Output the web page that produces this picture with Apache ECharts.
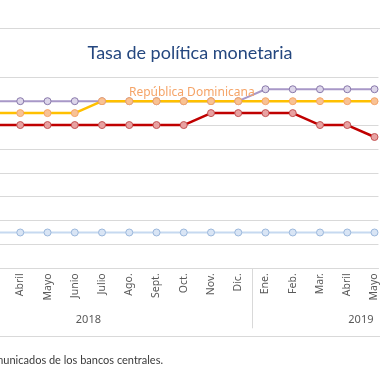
<!DOCTYPE html>
<html><head><meta charset="utf-8">
<script src="https://cdn.jsdelivr.net/npm/echarts@6/dist/echarts.min.js"></script>
<style>html,body{margin:0;padding:0;background:#fff}#c{width:380px;height:380px}</style>
</head><body><div id="c"></div>
<script>
const months = ['Ene.','Feb.','Mar.','Abril','Mayo','Junio','Julio','Ago.','Sept.','Oct.','Nov.','Dic.',
                'Ene.','Feb.','Mar.','Abril','Mayo','Junio','Julio','Ago.'];
const years = ['2018','2019'];
const monthsPerYear = [12, 8];
const honduras  = [5.5,5.5,5.5,5.5,5.5,5.5,5.5,5.5,5.5,5.5,5.5,5.5, 5.75,5.75,5.75,5.75,5.75,null,null,null];
const repDom    = [5.25,5.25,5.25,5.25,5.25,5.25,5.5,5.5,5.5,5.5,5.5,5.5, 5.5,5.5,5.5,5.5,5.5,null,null,null];
const costaRica = [5.0,5.0,5.0,5.0,5.0,5.0,5.0,5.0,5.0,5.0,5.25,5.25, 5.25,5.25,5.0,5.0,4.75,null,null,null];
const guatemala = [2.75,2.75,2.75,2.75,2.75,2.75,2.75,2.75,2.75,2.75,2.75,2.75, 2.75,2.75,2.75,2.75,2.75,null,null,null];
const repDomName = 'República Dominicana';
const repDomLabelIndex = 9;
// visible window of the (cropped) month axis, in month units
const viewMin = 2.756, viewMax = 16.645;

const monthCenters = months.map((m, i) => i + 0.5);
const yearBounds = [0]; monthsPerYear.forEach(n => yearBounds.push(yearBounds[yearBounds.length-1] + n));
const yearCenters = monthsPerYear.map((n, i) => yearBounds[i] + n / 2);
const toXY = arr => arr.map((v, i) => [monthCenters[i], v]);

const chart = echarts.init(document.getElementById('c'), null, {renderer: 'canvas'});
function mk(color, fill, border, width) {
  return {
    type: 'line', symbol: 'circle', symbolSize: 7, showSymbol: true, clip: true,
    lineStyle: {color: color, width: width},
    itemStyle: {color: fill, borderColor: border, borderWidth: 1},
    emphasis: {disabled: true}, animation: false
  };
}
const grey = '#d9d9d9';
chart.setOption({
  animation: false,
  title: {
    text: 'Tasa de política monetaria', left: 'center', top: 39,
    textStyle: {color: '#24477f', fontSize: 18, fontWeight: 'normal', fontFamily: 'Lato'}
  },
  grid: {left: 0, right: 0, top: 77.3, bottom: 111.7, containLabel: false},
  xAxis: [{
    type: 'value', min: viewMin, max: viewMax,
    axisLine: {show: true, lineStyle: {color: grey}},
    axisTick: {show: false}, splitLine: {show: false},
    axisLabel: {show: true, customValues: monthCenters.filter(c => c > viewMin && c < viewMax),
      rotate: 90, margin: 5, color: '#595959', fontSize: 10.5, fontFamily: 'Noto Sans',
      formatter: v => months[Math.round(v - 0.5)]}
  }, {
    type: 'value', min: viewMin, max: viewMax, position: 'bottom',
    axisLine: {show: false}, splitLine: {show: false},
    axisTick: {show: true, customValues: yearBounds.filter(c => c > viewMin && c < viewMax), length: 60, lineStyle: {color: grey}},
    axisLabel: {show: true, customValues: yearCenters, margin: 46, color: '#595959', fontSize: 11, fontFamily: 'Noto Sans',
      formatter: v => years[yearCenters.indexOf(v)]}
  }],
  yAxis: {
    type: 'value', min: 2, max: 6, interval: 0.5,
    axisLine: {show: false}, axisTick: {show: false}, axisLabel: {show: false},
    splitLine: {lineStyle: {color: grey, width: 1}}
  },
  graphic: [
    {type: 'line', shape: {x1: 0, y1: 28.5, x2: 380, y2: 28.5}, style: {stroke: grey, lineWidth: 1}},
    {type: 'line', shape: {x1: 0, y1: 336.5, x2: 380, y2: 336.5}, style: {stroke: grey, lineWidth: 1}},
    {type: 'text', x: 163, y: 360, style: {text: 'Fuente: elaboración propia con base en comunicados de los bancos centrales.',
      textAlign: 'right', textVerticalAlign: 'middle', fill: '#3a3a3a', fontSize: 11, fontFamily: 'Lato'}}
  ],
  series: [
    Object.assign(mk('#a898c8', '#ddd6ea', '#8878aa', 2), {name: 'Honduras', data: toXY(honduras)}),
    Object.assign(mk('#ffc000', '#f8c295', '#f4a46a', 2.5), {name: repDomName,
      data: toXY(repDom).map((p, i) => i === repDomLabelIndex ? {value: p, label: {show: true, position: 'top', offset: [8, 6],
        formatter: repDomName, color: '#f5a468', fontSize: 12, fontFamily: 'Noto Sans'}} : p)}),
    Object.assign(mk('#c00000', '#e8a2a2', '#c25454', 2.5), {name: 'Costa Rica', data: toXY(costaRica)}),
    Object.assign(mk('#c6d9f0', '#d9e5f5', '#9cb8dc', 2), {name: 'Guatemala', data: toXY(guatemala)})
  ]
});
</script></body></html>
